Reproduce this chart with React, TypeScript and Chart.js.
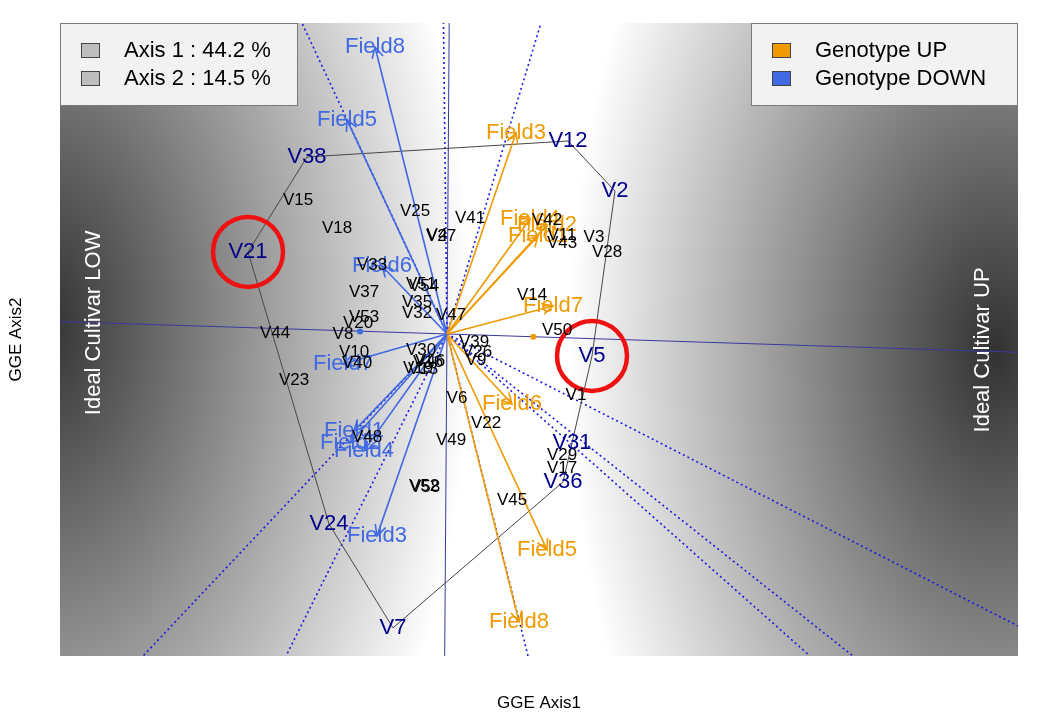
import React, { useEffect, useRef } from "react";
import { Chart, registerables } from "chart.js";

Chart.register(...registerables);

// ---------- axis ranges (GGE scores) ----------
const X_MIN = -3.87;
const X_MAX = 5.71;
const Y_MIN = -1.512;
const Y_MAX = 1.46;

// ---------- environments (fields) ----------
const fieldNames = ["Field1", "Field2", "Field3", "Field4", "Field5", "Field6", "Field7", "Field8"];
const upX = [0.91, 1.0, 0.69, 0.83, 1.0, 0.65, 1.06, 0.72];
const upY = [0.46, 0.512, 0.944, 0.54, -1.014, -0.329, 0.131, -1.352];
const downX = [-0.93, -0.97, -0.7, -0.83, -1.0, -0.65, -1.04, -0.72];
const downY = [-0.455, -0.512, -0.948, -0.549, 1.005, 0.319, -0.141, 1.347];

// ---------- genotypes (inner) ----------
const genotypeNames = ["V1", "V3", "V4", "V6", "V8", "V9", "V10", "V11", "V13", "V14", "V15", "V16", "V17", "V18", "V19", "V20", "V22", "V23", "V25", "V26", "V27", "V28", "V29", "V30", "V32", "V33", "V35", "V37", "V39", "V40", "V41", "V42", "V43", "V44", "V45", "V46", "V47", "V48", "V49", "V50", "V51", "V52", "V53", "V54", "V58"];
const genotypeX = [1.29, 1.47, -0.1, 0.1, -1.04, 0.29, -0.93, 1.15, -0.24, 0.85, -1.49, -0.19, 1.15, -1.1, -0.29, -0.89, 0.39, -1.53, -0.32, 0.3, -0.06, 1.6, 1.15, -0.26, -0.3, -0.75, -0.3, -0.83, 0.27, -0.9, 0.23, 1.0, 1.15, -1.72, 0.65, -0.17, 0.04, -0.8, 0.04, 1.1, -0.26, -0.23, -0.83, -0.23, -0.22];
const genotypeY = [-0.286, 0.455, 0.465, -0.3, 0.0, -0.122, -0.085, 0.465, -0.164, 0.183, 0.629, -0.131, -0.629, 0.498, -0.16, 0.052, -0.418, -0.216, 0.577, -0.085, 0.46, 0.385, -0.568, -0.075, 0.099, 0.324, 0.15, 0.197, -0.038, -0.136, 0.545, 0.535, 0.427, 0.005, -0.779, -0.127, 0.089, -0.484, -0.498, 0.019, 0.235, -0.716, 0.08, 0.225, -0.72];

// ---------- polygon vertices (winning genotypes) ----------
const vertexNames = ["V38", "V12", "V2", "V5", "V31", "V36", "V7", "V24", "V21"];
const vertexX = [-1.4, 1.21, 1.68, 1.45, 1.25, 1.16, -0.54, -1.18, -1.99];
const vertexY = [0.831, 0.906, 0.671, -0.103, -0.512, -0.695, -1.38, -0.892, 0.385];

// ---------- sector rays (end points) ----------
const rayX = [-1.45, -0.035, 0.94, 5.71, 4.06, 3.63, 0.81, -1.61, -3.04];
const rayY = [1.46, 1.46, 1.46, -1.371, -1.512, -1.512, -1.512, -1.512, -1.512];

// ---------- average environment axis ----------
const aecAbsX = [-3.87, 5.71];
const aecAbsY = [0.058, -0.086];
const aecOrdX = [0.022, -0.023];
const aecOrdY = [1.46, -1.512];
const avgEnvX = [0.863];
const avgEnvY = [-0.013];
const avgEnvNegX = [-0.87];
const avgEnvNegY = [0.011];

// ---------- ideal cultivars ----------
const idealLabels = ["Ideal Cultivar LOW", "Ideal Cultivar UP"];
const idealX = [-3.53, 5.36];
const idealY = [0.052, -0.075];
const shadeX = [-4.02, 5.48];
const shadeY = [0.06, -0.082];

// ---------- highlighted genotypes ----------
const circledNames = ["V21", "V5"];

// ---------- legends / titles ----------
const axisLegend = ["Axis 1 : 44.2 %", "Axis 2 : 14.5 %"];
const groupLegend = ["Genotype UP", "Genotype DOWN"];
const xTitle = "GGE Axis1";
const yTitle = "GGE Axis2";

const ORANGE = "#EE9A00";
const BLUE = "#4169E1";
const NAVY = "#00008B";
const FONT = "'Liberation Sans', Arial, sans-serif";

export default function App() {
  const ref = useRef<HTMLCanvasElement>(null);

  useEffect(() => {
    document.body.style.margin = "0";
    const canvas = ref.current;
    if (!canvas) return;
    const pt = (x: number, y: number) => ({ x, y });
    const datasets: any[] = [];

    // AEC lines
    datasets.push({
      data: [pt(aecAbsX[0], aecAbsY[0]), pt(aecAbsX[1], aecAbsY[1])],
      showLine: true, borderColor: "#3a3a9c", borderWidth: 1, pointRadius: 0, order: 60,
    });
    datasets.push({
      data: [pt(aecOrdX[0], aecOrdY[0]), pt(aecOrdX[1], aecOrdY[1])],
      showLine: true, borderColor: "#3a3a9c", borderWidth: 1, pointRadius: 0, order: 60,
    });
    // rays
    rayX.forEach((x, i) => {
      datasets.push({
        data: [pt(0, 0), pt(x, rayY[i])],
        showLine: true, borderColor: "#1a1ae0", borderWidth: 1.6, borderDash: [2, 3],
        pointRadius: 0, order: 50,
      });
    });
    // polygon
    const poly = vertexX.map((x, i) => pt(x, vertexY[i]));
    poly.push(pt(vertexX[0], vertexY[0]));
    datasets.push({
      data: poly, showLine: true, borderColor: "#474747", borderWidth: 1, pointRadius: 0, order: 40,
    });
    // arrows
    fieldNames.forEach((_, i) => {
      datasets.push({
        data: [pt(0, 0), pt(upX[i], upY[i])],
        showLine: true, borderColor: ORANGE, borderWidth: 1.6, pointRadius: 0, order: 30,
      });
      datasets.push({
        data: [pt(0, 0), pt(downX[i], downY[i])],
        showLine: true, borderColor: BLUE, borderWidth: 1.6, pointRadius: 0, order: 30,
      });
    });
    // average environment dots
    datasets.push({
      data: [pt(avgEnvX[0], avgEnvY[0])], pointRadius: 3, backgroundColor: ORANGE, borderWidth: 0, order: 20,
    });
    datasets.push({
      data: [pt(avgEnvNegX[0], avgEnvNegY[0])], pointRadius: 3, backgroundColor: BLUE, borderWidth: 0, order: 20,
    });
    // red circles
    const circ = circledNames.map((n) => {
      const k = vertexNames.indexOf(n);
      return pt(vertexX[k], vertexY[k]);
    });
    datasets.push({
      data: circ, pointRadius: 35, pointStyle: "circle", backgroundColor: "rgba(0,0,0,0)",
      borderColor: "#ee1111", borderWidth: 4.5, order: 0, clip: false,
    });

    const shadePlugin = {
      id: "shade",
      beforeDraw(chart: any) {
        const { ctx, chartArea: a, scales } = chart;
        const xs = scales.x, ys = scales.y;
        ctx.save();
        ctx.fillStyle = "#ffffff";
        ctx.fillRect(0, 0, chart.width, chart.height);
        ctx.restore();
        const L = Math.round(a.left), T = Math.round(a.top);
        const W = Math.round(a.right) - L, H = Math.round(a.bottom) - T;
        const img = ctx.createImageData(W, H);
        const xv = new Float64Array(W);
        const yv = new Float64Array(H);
        for (let i = 0; i < W; i++) xv[i] = xs.getValueForPixel(L + i + 0.5);
        for (let j = 0; j < H; j++) yv[j] = ys.getValueForPixel(T + j + 0.5);
        const K = 1.25;
        for (let j = 0; j < H; j++) {
          for (let i = 0; i < W; i++) {
            let d = 1e9;
            for (let s = 0; s < shadeX.length; s++) {
              const dx = xv[i] - shadeX[s];
              const dy = (yv[j] - shadeY[s]) * K;
              const dd = Math.sqrt(dx * dx + dy * dy);
              if (dd < d) d = dd;
            }
            let g = 50 + 48 * d;
            if (g > 255) g = 255;
            const o = (j * W + i) * 4;
            img.data[o] = g; img.data[o + 1] = g; img.data[o + 2] = g; img.data[o + 3] = 255;
          }
        }
        ctx.putImageData(img, L, T);
      },
    };

    const overlayPlugin = {
      id: "overlay",
      afterDatasetsDraw(chart: any) {
        const { ctx, chartArea: a, scales } = chart;
        const xs = scales.x, ys = scales.y;
        const X = (v: number) => xs.getPixelForValue(v);
        const Y = (v: number) => ys.getPixelForValue(v);
        ctx.save();
        // arrow heads
        const head = (x: number, y: number, color: string) => {
          const x0 = X(0), y0 = Y(0), x1 = X(x), y1 = Y(y);
          const ang = Math.atan2(y1 - y0, x1 - x0);
          const len = 12, spread = 0.48;
          ctx.strokeStyle = color;
          ctx.lineWidth = 1.6;
          ctx.beginPath();
          ctx.moveTo(x1 - len * Math.cos(ang - spread), y1 - len * Math.sin(ang - spread));
          ctx.lineTo(x1, y1);
          ctx.lineTo(x1 - len * Math.cos(ang + spread), y1 - len * Math.sin(ang + spread));
          ctx.stroke();
        };
        fieldNames.forEach((_, i) => {
          head(upX[i], upY[i], ORANGE);
          head(downX[i], downY[i], BLUE);
        });
        ctx.textAlign = "center";
        ctx.textBaseline = "middle";
        // field labels
        ctx.font = `22px ${FONT}`;
        fieldNames.forEach((n, i) => {
          ctx.fillStyle = ORANGE;
          ctx.fillText(n, X(upX[i]), Y(upY[i]));
          ctx.fillStyle = BLUE;
          ctx.fillText(n, X(downX[i]), Y(downY[i]));
        });
        // genotype labels
        ctx.font = `17px ${FONT}`;
        ctx.fillStyle = "#000000";
        genotypeNames.forEach((n, i) => ctx.fillText(n, X(genotypeX[i]), Y(genotypeY[i])));
        // vertex labels
        ctx.font = `22px ${FONT}`;
        ctx.fillStyle = NAVY;
        vertexNames.forEach((n, i) => ctx.fillText(n, X(vertexX[i]), Y(vertexY[i])));
        // ideal cultivar labels
        ctx.fillStyle = "#ffffff";
        idealLabels.forEach((n, i) => {
          ctx.save();
          ctx.translate(X(idealX[i]), Y(idealY[i]));
          ctx.rotate(-Math.PI / 2);
          ctx.fillText(n, 0, 0);
          ctx.restore();
        });
        // legends
        const drawLegend = (x0: number, y0: number, w: number, labels: string[], colors: string[]) => {
          ctx.fillStyle = "#f2f2f2";
          ctx.fillRect(x0, y0, w, 82);
          ctx.strokeStyle = "#7a7a7a";
          ctx.lineWidth = 1;
          ctx.strokeRect(x0 + 0.5, y0 + 0.5, w - 1, 82);
          ctx.font = `22px ${FONT}`;
          ctx.textAlign = "left";
          labels.forEach((t, i) => {
            const cy = y0 + 27 + i * 28;
            ctx.fillStyle = colors[i];
            ctx.fillRect(x0 + 21, cy - 7, 18, 14);
            ctx.strokeStyle = "#444444";
            ctx.strokeRect(x0 + 21.5, cy - 6.5, 18, 14);
            ctx.fillStyle = "#000000";
            ctx.fillText(t, x0 + 64, cy + 1);
          });
        };
        drawLegend(a.left, a.top, 238, axisLegend, ["#bebebe", "#bebebe"]);
        drawLegend(a.right - 267, a.top, 267, groupLegend, [ORANGE, BLUE]);
        // axis titles
        ctx.fillStyle = "#000000";
        ctx.font = `17px ${FONT}`;
        ctx.textAlign = "center";
        ctx.fillText(xTitle, (a.left + a.right) / 2, 703);
        ctx.save();
        ctx.translate(16, (a.top + a.bottom) / 2);
        ctx.rotate(-Math.PI / 2);
        ctx.fillText(yTitle, 0, 0);
        ctx.restore();
        ctx.restore();
      },
    };

    const chart = new Chart(canvas, {
      type: "scatter",
      data: { datasets },
      options: {
        animation: false,
        responsive: false,
        devicePixelRatio: 1,
        layout: { autoPadding: false, padding: { left: 60, top: 23, right: 19, bottom: 62 } },
        plugins: { legend: { display: false }, tooltip: { enabled: false } },
        scales: {
          x: { type: "linear", min: X_MIN, max: X_MAX, display: false },
          y: { type: "linear", min: Y_MIN, max: Y_MAX, display: false },
        },
      },
      plugins: [shadePlugin, overlayPlugin],
    });
    return () => chart.destroy();
  }, []);

  return (
    <div style={{ position: "absolute", left: 0, top: 0, width: 1037, height: 718 }}>
      <canvas ref={ref} width={1037} height={718} style={{ width: 1037, height: 718 }} />
    </div>
  );
}
